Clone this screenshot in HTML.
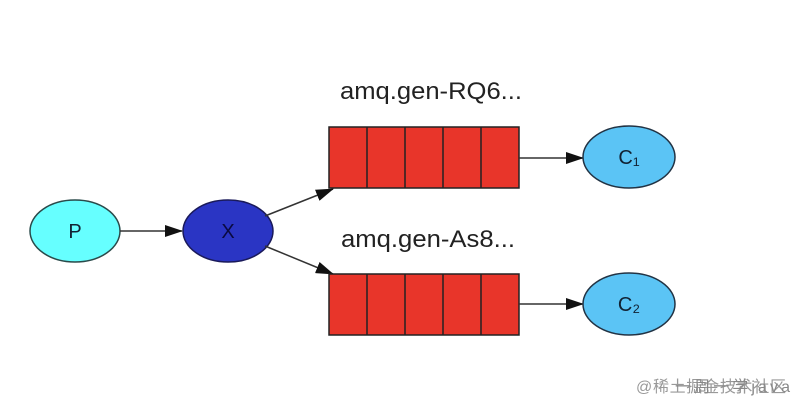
<!DOCTYPE html>
<html><head><meta charset="utf-8"><style>
html,body{margin:0;padding:0;background:#fff;width:800px;height:410px;overflow:hidden}
</style></head><body>
<svg width="800" height="410" xmlns="http://www.w3.org/2000/svg" font-family="Liberation Sans, DejaVu Sans, sans-serif">
<defs><marker id="a" markerWidth="18" markerHeight="12" refX="17" refY="6" orient="auto" markerUnits="userSpaceOnUse"><path d="M0,0 L18,6 L0,12 z" fill="#111"/></marker></defs>
<ellipse cx="75" cy="231" rx="45" ry="31" fill="#6ff" stroke="#2a4a4a" stroke-width="1.5"/>
<text x="75" y="238" font-size="20" text-anchor="middle" fill="#123">P</text>
<line x1="120" y1="231" x2="182" y2="231" stroke="#333" stroke-width="1.5" marker-end="url(#a)"/>
<ellipse cx="228" cy="231" rx="45" ry="31" fill="#2a35c4" stroke="#1a1a5a" stroke-width="1.5"/>
<text x="228" y="238" font-size="20" text-anchor="middle" fill="#0a0a40">X</text>
<line x1="265" y1="216" x2="333" y2="189" stroke="#333" stroke-width="1.5" marker-end="url(#a)"/>
<line x1="265" y1="246" x2="333" y2="274" stroke="#333" stroke-width="1.5" marker-end="url(#a)"/>
<g stroke="#222" stroke-width="1.5" fill="#e8352a">
<rect x="329" y="127" width="190" height="61"/>
<line x1="367" y1="127" x2="367" y2="188"/><line x1="405" y1="127" x2="405" y2="188"/><line x1="443" y1="127" x2="443" y2="188"/><line x1="481" y1="127" x2="481" y2="188"/>
<rect x="329" y="274" width="190" height="61"/>
<line x1="367" y1="274" x2="367" y2="335"/><line x1="405" y1="274" x2="405" y2="335"/><line x1="443" y1="274" x2="443" y2="335"/><line x1="481" y1="274" x2="481" y2="335"/>
</g>
<text x="340" y="99" font-size="24" fill="#222" textLength="182" lengthAdjust="spacingAndGlyphs">amq.gen-RQ6...</text>
<text x="341" y="247" font-size="24" fill="#222" textLength="174" lengthAdjust="spacingAndGlyphs">amq.gen-As8...</text>
<line x1="519" y1="158" x2="583" y2="158" stroke="#333" stroke-width="1.5" marker-end="url(#a)"/>
<line x1="519" y1="304" x2="583" y2="304" stroke="#333" stroke-width="1.5" marker-end="url(#a)"/>
<ellipse cx="629" cy="157" rx="46" ry="31" fill="#5bc4f5" stroke="#234" stroke-width="1.5"/>
<text x="629" y="164" font-size="20" text-anchor="middle" fill="#123">C₁</text>
<ellipse cx="629" cy="304" rx="46" ry="31" fill="#5bc4f5" stroke="#234" stroke-width="1.5"/>
<text x="629" y="311" font-size="20" text-anchor="middle" fill="#123">C₂</text>
<text x="636" y="392" font-size="16" fill="#999" textLength="150" font-family="Liberation Sans, Noto Sans CJK SC, sans-serif">@稀土掘金技术社区</text>
<text x="675" y="392" font-size="16" fill="#888" textLength="115" font-family="Liberation Sans, Noto Sans CJK SC, sans-serif">一周一学java</text>
</svg>
</body></html>
